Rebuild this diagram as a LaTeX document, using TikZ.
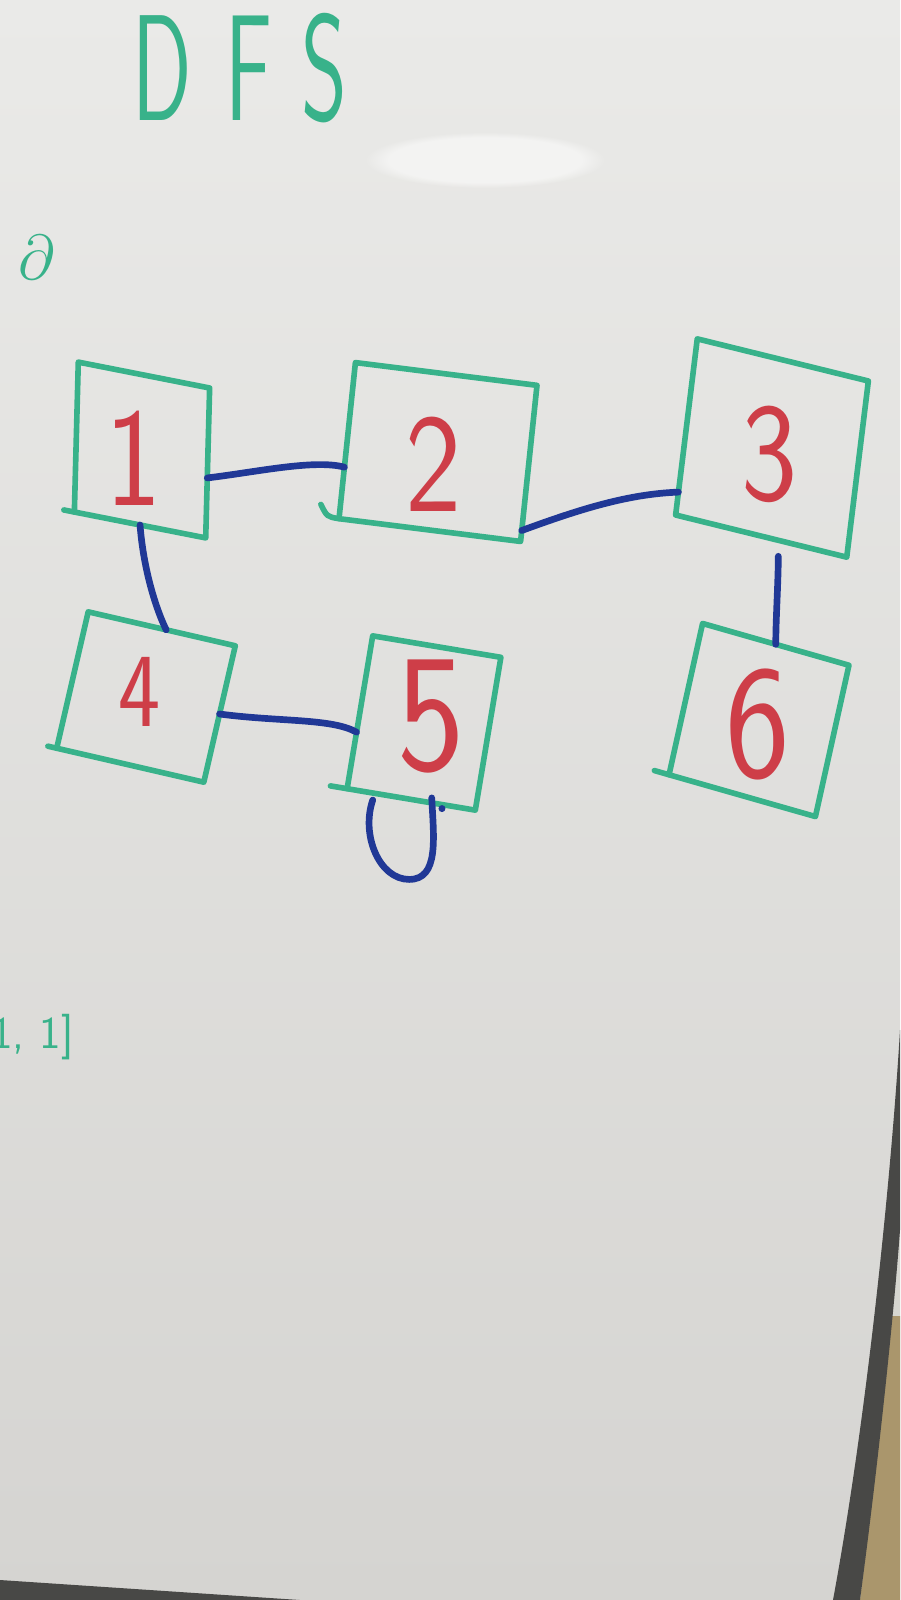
\documentclass[tikz,border=0pt]{standalone}
\usepackage{graphicx}
\usetikzlibrary{calc,fadings}
\definecolor{boardtop}{RGB}{234,234,232}
\definecolor{boardbot}{RGB}{213,212,209}
\definecolor{marker}{RGB}{56,178,138}
\definecolor{ink}{RGB}{32,56,150}
\definecolor{redink}{RGB}{206,62,72}
\definecolor{framegray}{RGB}{72,72,70}
\definecolor{wallwhite}{RGB}{214,214,208}
\definecolor{walltan}{RGB}{170,150,108}
\tikzset{
  box/.style={draw=marker, line width=3.2pt, line join=round, line cap=round, inner sep=0pt, outer sep=0pt},
  boxline/.style={draw=marker, line width=3.2pt, line cap=round},
  lbl/.style={text=redink, font=\sffamily\fontsize{80}{80}\selectfont, inner sep=0pt, xscale=0.85},
  edge/.style={draw=ink, line width=3.8pt, line cap=round, line join=round},
  title/.style={text=marker, inner sep=0pt}
}
\begin{document}
\begin{tikzpicture}[x=0.02cm, y=-0.02cm]
\useasboundingbox (0,0) rectangle (900,1600);
% whiteboard
\shade[top color=boardtop, bottom color=boardbot] (0,0) rectangle (900,1600);
\fill[white, path fading=circle with fuzzy edge 20 percent, opacity=0.5] (485,160) ellipse (120 and 28);
% frame and wall at right / bottom
\fill[wallwhite] (900,1230) .. controls (895,1300) and (880,1450) .. (860,1600) -- (900,1600) -- cycle;
\fill[walltan] (892,1316) -- (900,1316) -- (900,1600) -- (860,1600) .. controls (872,1500) and (884,1400) .. cycle;
\fill[framegray] (900,1030) .. controls (893,1150) and (870,1400) .. (833,1600) -- (860,1600) .. controls (880,1450) and (895,1300) .. (900,1230) -- cycle;
\fill[framegray] (0,1580) -- (300,1600) -- (0,1600) -- cycle;

% texts
\node[title] (dfs) at (240,68) {\fontsize{86}{86}\selectfont\sffamily\scalebox{0.58}[1]{D\hspace{1.15cm}F\hspace{1.0cm}S}};
\node[title] (partial) at (37,257) {\Huge\scalebox{1.45}{$\partial$}};
\node[title, anchor=base east] (list) at (74,1048) {\sffamily\fontsize{26}{26}\selectfont 1,\,\,1]};

% boxes
\node[box, rotate=-1.5, yslant=-0.17, minimum width=2.64cm, minimum height=3.0cm] (n1) at (142,450) {};
\node[box, rotate=-6, yslant=-0.02, minimum width=3.66cm, minimum height=3.14cm] (n2) at (438,452) {};
\node[box, rotate=-7, yslant=-0.12, minimum width=3.5cm, minimum height=3.55cm] (n3) at (772,448) {};
\node[box, rotate=-13, minimum width=3.02cm, minimum height=2.8cm] (n4) at (146,697) {};
\node[box, rotate=-9.5, minimum width=2.6cm, minimum height=3.1cm] (n5) at (424,723) {};
\node[box, rotate=-12.5, yslant=-0.06, minimum width=3.04cm, minimum height=3.1cm] (n6) at (759,720) {};
% overshooting bottom strokes
\draw[boxline] (n1.south west) -- ($(n1.south west)!-0.08!(n1.south east)$);
\draw[boxline] (n2.south west) .. controls +(-12,-2) .. ($(n2.south west)!-0.1!(n2.south east)+(0,-12)$);
\draw[boxline] (n4.south west) -- ($(n4.south west)!-0.06!(n4.south east)$);
\draw[boxline] (n5.south west) -- ($(n5.south west)!-0.13!(n5.south east)$);
\draw[boxline] (n6.south west) -- ($(n6.south west)!-0.1!(n6.south east)$);

% labels
\node[lbl] (t1) at (134,458) {1};
\node[lbl] (t2) at (434,464) {2};
\node[lbl] (t3) at (770,454) {3};
\node[lbl, scale=0.75] (t4) at (140,692) {4};
\node[lbl, scale=1.2] (t5) at (431,717) {5};
\node[lbl, scale=1.15] (t6) at (758,724) {6};

% edges
\draw[edge] ($(n1.north east)!0.6!(n1.south east)$) .. controls +(50,-6) and +(-30,-8) .. ($(n2.north west)!0.67!(n2.south west)$);
\draw[edge] ($(n2.north east)!0.93!(n2.south east)$) .. controls +(60,-22) and +(-50,2) .. ($(n3.north west)!0.87!(n3.south west)$);
\draw[edge] ($(n3.south west)!0.6!(n3.south east)+(0,16)$) .. controls +(0,25) and +(0,-25) .. ($(n6.north west)!0.5!(n6.north east)$);
\draw[edge] ($(n1.south west)!0.5!(n1.south east)$) .. controls +(3,40) and +(-12,-25) .. ($(n4.north west)!0.53!(n4.north east)$);
\draw[edge] ($(n4.north east)!0.5!(n4.south east)$) .. controls +(60,8) and +(-25,-14) .. ($(n5.north west)!0.63!(n5.south west)$);
% self loop at 5
\draw[edge] ($(n5.south west)!0.2!(n5.south east)+(0,7)$) .. controls +(-12,35) and +(-30,0) .. ($(n5.south)+(-2,80)$) .. controls +(30,0) and +(2,40) .. ($(n5.south west)!0.66!(n5.south east)+(0,-5)$);
\fill[ink] ($(n5.south west)!0.74!(n5.south east)+(0,4)$) circle (3.5);
\end{tikzpicture}
\end{document}
